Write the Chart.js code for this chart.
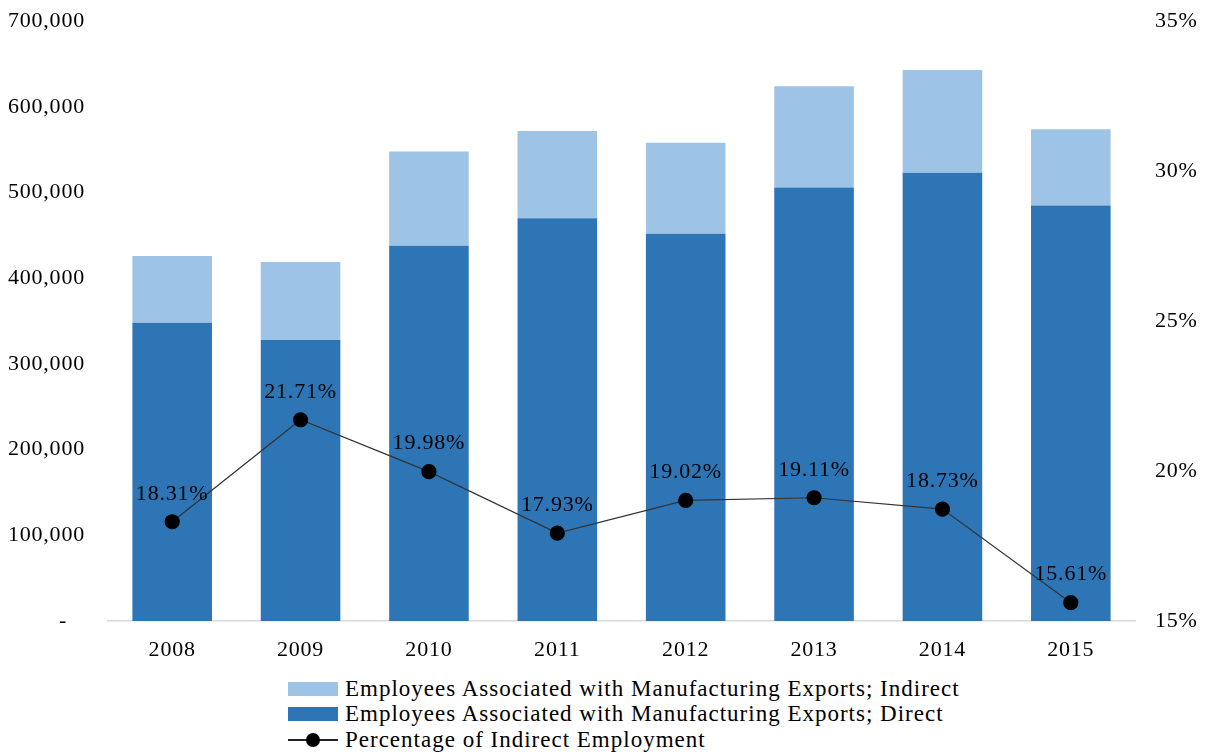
<!DOCTYPE html>
<html>
<head>
<meta charset="utf-8">
<script src="https://cdn.jsdelivr.net/npm/chart.js@4"></script>
<style>
    html, body { margin: 0; padding: 0; background: #fff; overflow: hidden; }
    #wrap { width: 1209px; height: 685px; position: absolute; left: 0; top: -15px; }
    #legend { position: absolute; left: 288px; top: 676px; font-family: "Liberation Serif", serif; font-size: 23px; letter-spacing: 1px; color: #000; }
    .row { height: 25.5px; display: flex; align-items: center; }
    .box { width: 50px; height: 14px; margin-right: 7px; }
    .ln { width: 50px; height: 14px; margin-right: 7px; position: relative; }
    .ln:before { content: ''; position: absolute; left: 0; right: 0; top: 6px; height: 2px; background: #222; }
    .ln:after { content: ''; position: absolute; left: 18px; top: 0; width: 14px; height: 14px; border-radius: 50%; background: #000; }
</style>
</head>
<body>
<div id="wrap"><canvas id="chart"></canvas></div>
<div id="legend">
    <div class="row"><span class="box" style="background:#9DC3E6"></span>Employees Associated with Manufacturing Exports; Indirect</div>
    <div class="row"><span class="box" style="background:#2E75B6"></span>Employees Associated with Manufacturing Exports; Direct</div>
    <div class="row"><span class="ln"></span>Percentage of Indirect Employment</div>
</div>
<script>
// valores
const years = ['2008', '2009', '2010', '2011', '2012', '2013', '2014', '2015'];
const directos = [348000, 328000, 438000, 470000, 452000, 506000, 523000, 485000];
const indirectos = [78000, 91000, 110000, 102000, 106000, 118000, 120000, 89000];
const porcentaje = [18.31, 21.71, 19.98, 17.93, 19.02, 19.11, 18.73, 15.61];
const leftTicks = [0, 100000, 200000, 300000, 400000, 500000, 600000, 700000];
const rightTicks = [15, 20, 25, 30, 35];

const FONT = 'Liberation Serif';

// espaciado de letras para imitar la fuente original
const espaciado = {
    id: 'espaciado',
    beforeDraw(chart) { chart.ctx.letterSpacing = '0.8px'; }
};

const etiquetas = {
    id: 'etiquetas',
    afterDatasetsDraw(chart) {
        const ctx = chart.ctx;
        const meta = chart.getDatasetMeta(0);
        ctx.save();
        ctx.font = '22px "' + FONT + '"';
        ctx.fillStyle = '#000';
        ctx.textAlign = 'center';
        ctx.textBaseline = 'middle';
        meta.data.forEach((pt, i) => {
            ctx.fillText(porcentaje[i].toFixed(2) + '%', pt.x, pt.y - 28);
        });
        ctx.restore();
    }
};

new Chart(document.getElementById('chart'), {
    type: 'bar',
    data: {
        labels: years,
        datasets: [
            {
                type: 'line',
                label: 'Percentage of Indirect Employment',
                data: porcentaje,
                yAxisID: 'y2',
                borderColor: '#333',
                borderWidth: 1.2,
                pointRadius: 7,
                pointBackgroundColor: '#000',
                pointBorderColor: '#000',
                tension: 0,
                order: 0
            },
            {
                label: 'Employees Associated with Manufacturing Exports; Direct',
                data: directos,
                backgroundColor: '#2E75B6',
                stack: 's',
                categoryPercentage: 0.62,
                barPercentage: 1,
                order: 1
            },
            {
                label: 'Employees Associated with Manufacturing Exports; Indirect',
                data: indirectos,
                backgroundColor: '#9DC3E6',
                stack: 's',
                categoryPercentage: 0.62,
                barPercentage: 1,
                order: 2
            }
        ]
    },
    options: {
        responsive: true,
        maintainAspectRatio: false,
        animation: false,
        layout: { padding: 0 },
        plugins: { legend: { display: false }, tooltip: { enabled: false } },
        scales: {
            x: {
                stacked: true,
                grid: { display: false, drawTicks: false },
                border: { color: '#d9d9d9', width: 1.5 },
                ticks: { color: '#000', padding: 16, font: { family: FONT, size: 22 } },
                afterFit: s => { s.height = 49; }
            },
            y: {
                stacked: true,
                min: 0, max: 700000,
                afterBuildTicks: s => { s.ticks = leftTicks.map(v => ({ value: v })); },
                grid: { display: false, drawTicks: false },
                border: { display: false },
                ticks: {
                    color: '#000', padding: 23,
                    font: { family: FONT, size: 22 },
                    callback: v => v === 0 ? '-  \u2009' : v.toLocaleString('en-US')
                },
                afterFit: s => { s.width = 108; }
            },
            y2: {
                position: 'right',
                min: 15, max: 35,
                afterBuildTicks: s => { s.ticks = rightTicks.map(v => ({ value: v })); },
                grid: { display: false, drawTicks: false },
                border: { display: false },
                ticks: {
                    color: '#000', padding: 20,
                    font: { family: FONT, size: 22 },
                    callback: v => v + '%'
                },
                afterFit: s => { s.width = 74; }
            }
        }
    },
    plugins: [espaciado, etiquetas]
});
</script>
</body>
</html>
